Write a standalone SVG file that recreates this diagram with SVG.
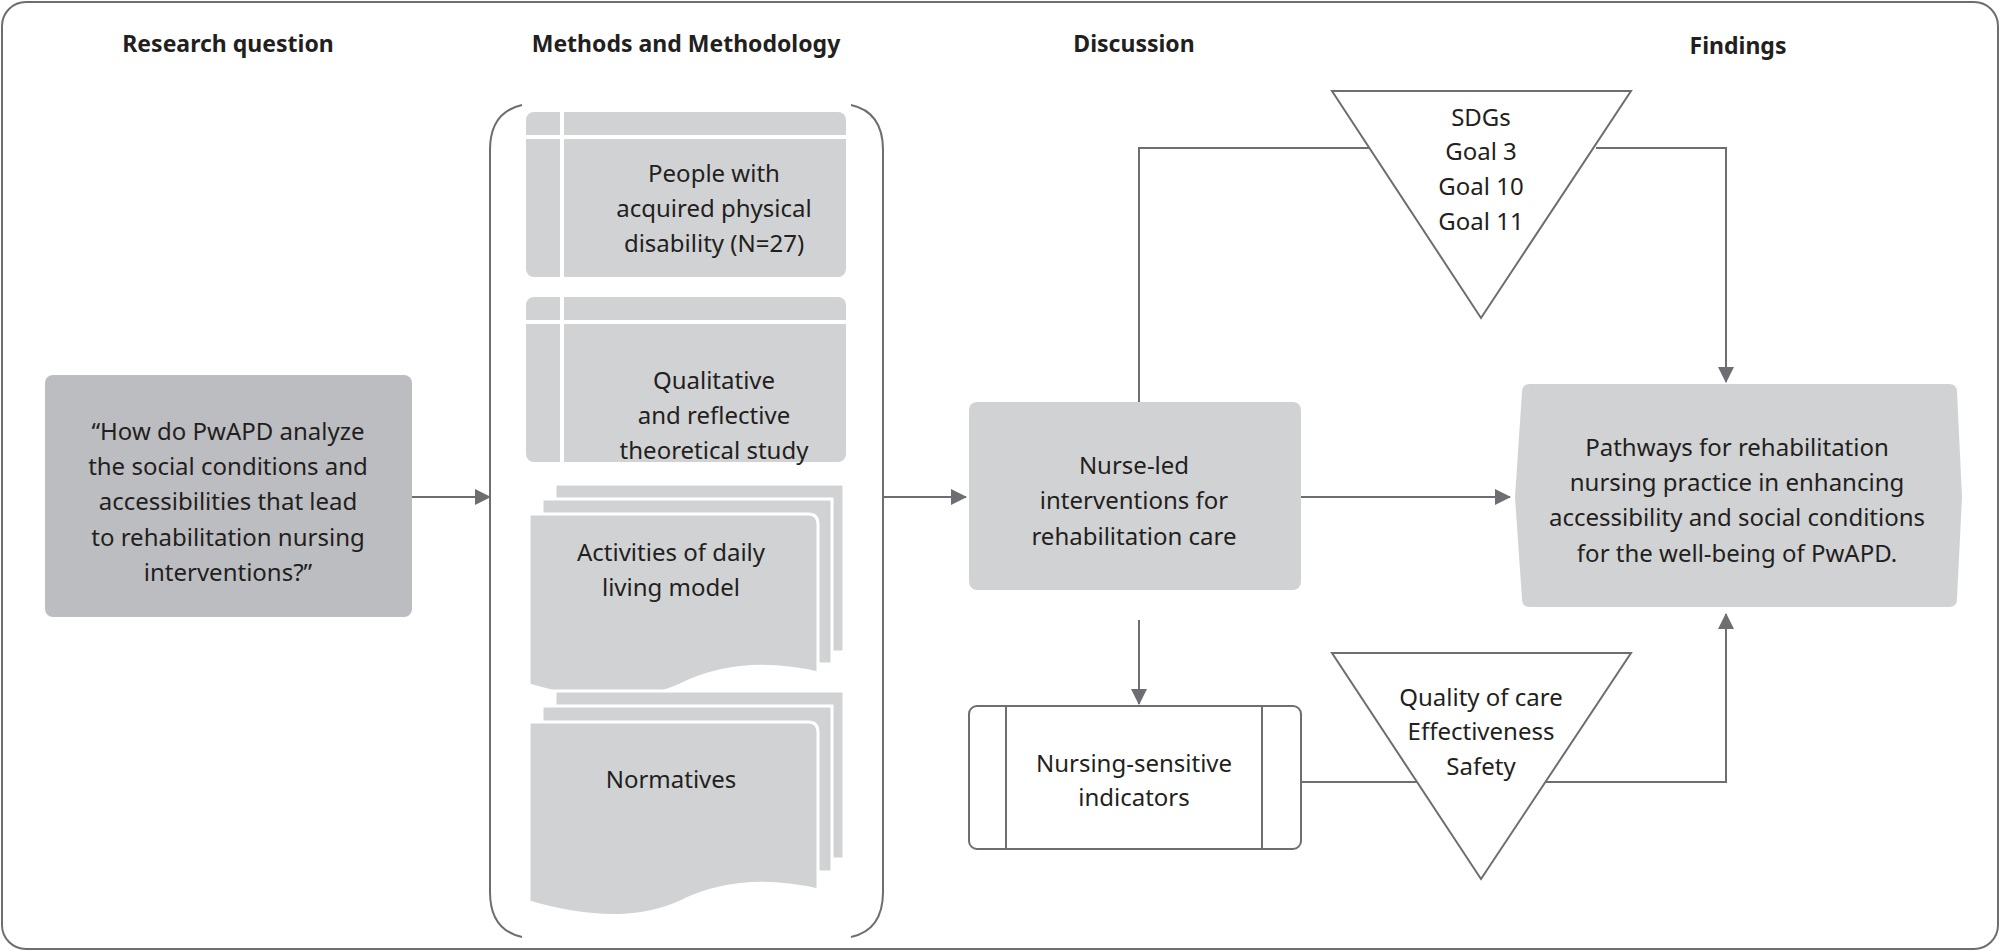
<svg xmlns="http://www.w3.org/2000/svg" width="2000" height="951" viewBox="0 0 2000 951">
<style>
text{font-family:"Noto Sans","Open Sans",sans-serif;font-size:24px;fill:#231f20;text-anchor:middle}
.t{font-weight:bold;font-size:23px}
.f{fill:#d1d2d4}
.ln{fill:none;stroke:#6d6e71;stroke-width:2}
.w{stroke:#fff;stroke-width:4;fill:none}
</style>
<defs><marker id="a" markerWidth="10" markerHeight="10" refX="9" refY="5" orient="auto" markerUnits="userSpaceOnUse" viewBox="0 0 10 10"><path d="M0,0L10,5L0,10z" fill="#6d6e71"/></marker>
<marker id="b" markerWidth="16" markerHeight="16" refX="15" refY="8" orient="auto" markerUnits="userSpaceOnUse" viewBox="0 0 16 16"><path d="M0,0L16,8L0,16z" fill="#6d6e71"/></marker></defs>
<rect x="2" y="2" width="1996" height="947" rx="24" fill="#fff" stroke="#6d6e71" stroke-width="2"/>
<g id="titles"><text class="t" x="228" y="52">Research question</text><text class="t" x="686" y="52">Methods and Methodology</text><text class="t" x="1134" y="52">Discussion</text><text class="t" x="1738" y="54">Findings</text></g>
<g id="connectors" class="ln">
<path class="ln" d="M412,497H490" marker-end="url(#b)"/>
<path class="ln" d="M883,497H966" marker-end="url(#b)"/>
<path class="ln" d="M1301,497H1510" marker-end="url(#b)"/>
<path class="ln" d="M1139,422V148H1369"/>
<path class="ln" d="M1596,148H1726V382" marker-end="url(#b)"/>
<path class="ln" d="M1139,620V704" marker-end="url(#b)"/>
<path class="ln" d="M1301,782H1418"/>
<path class="ln" d="M1545,782H1726V614" marker-end="url(#b)"/>
</g>
<g id="question"><rect x="45" y="375" width="367" height="242" rx="8" fill="#bcbdc0"/>
<text x="228" y="440">“How do PwAPD analyze</text><text x="228" y="475">the social conditions and</text><text x="228" y="510">accessibilities that lead</text><text x="228" y="546">to rehabilitation nursing</text><text x="228" y="581">interventions?”</text></g>
<g id="bracket"><path class="ln" d="M522,105Q490,112 490,150V892Q490,930 522,937"/><path class="ln" d="M851,105Q883,112 883,150V892Q883,930 851,937"/></g>
<g id="people"><rect class="f" x="526" y="112" width="320" height="165" rx="8"/><path class="w" d="M562,112V277M526,137H846"/>
<text x="714" y="182">People with</text><text x="714" y="217">acquired physical</text><text x="714" y="252">disability (N=27)</text></g>
<g id="qual"><rect class="f" x="526" y="297" width="320" height="165" rx="8"/><path class="w" d="M562,297V462M526,322H846"/>
<text x="714" y="389">Qualitative</text><text x="714" y="424">and reflective</text><text x="714" y="459">theoretical study</text></g>
<g id="adl"><path d="M555,484H844V652H555z" fill="#d1d2d4" stroke="#fff" stroke-width="3"/><path d="M542,499H832V664H542z" fill="#d1d2d4" stroke="#fff" stroke-width="3"/>
<path d="M529,514Q529,514 540,514H808Q818,514 818,524V673Q740,655 680,685Q620,712 529,685z" fill="#d1d2d4" stroke="#fff" stroke-width="3"/>
<text x="671" y="561">Activities of daily</text><text x="671" y="596">living model</text></g>
<g id="norm"><path d="M555,691H844V859H555z" fill="#d1d2d4" stroke="#fff" stroke-width="3"/><path d="M542,706H832V872H542z" fill="#d1d2d4" stroke="#fff" stroke-width="3"/>
<path d="M529,722H808Q818,722 818,732V890Q740,872 680,902Q620,929 529,902z" fill="#d1d2d4" stroke="#fff" stroke-width="3"/>
<text x="671" y="788">Normatives</text></g>
<g id="nurse"><rect class="f" x="969" y="402" width="332" height="188" rx="8"/>
<text x="1134" y="474">Nurse-led</text><text x="1134" y="509">interventions for</text><text x="1134" y="545">rehabilitation care</text></g>
<g id="nsi"><rect x="969" y="706" width="332" height="143" rx="8" fill="#fff" stroke="#6d6e71" stroke-width="2"/><path class="ln" d="M1006,706V849M1262,706V849"/>
<text x="1134" y="772">Nursing-sensitive</text><text x="1134" y="806">indicators</text></g>
<g id="sdg"><path d="M1332,91H1631L1481,318z" fill="#fff" stroke="#6d6e71" stroke-width="2"/>
<text x="1481" y="126">SDGs</text><text x="1481" y="160">Goal 3</text><text x="1481" y="195">Goal 10</text><text x="1481" y="230">Goal 11</text></g>
<g id="quality"><path d="M1332,653H1631L1481,879z" fill="#fff" stroke="#6d6e71" stroke-width="2"/>
<text x="1481" y="706">Quality of care</text><text x="1481" y="740">Effectiveness</text><text x="1481" y="775">Safety</text></g>
<g id="findings"><path d="M1530,384H1949Q1957,384 1957,392L1962,497L1957,599Q1957,607 1949,607H1530Q1522,607 1522,599L1515,497L1522,392Q1522,384 1530,384z" fill="#d1d2d4"/>
<text x="1737" y="456">Pathways for rehabilitation</text><text x="1737" y="491">nursing practice in enhancing</text><text x="1737" y="526">accessibility and social conditions</text><text x="1737" y="562">for the well-being of PwAPD.</text></g>
</svg>
